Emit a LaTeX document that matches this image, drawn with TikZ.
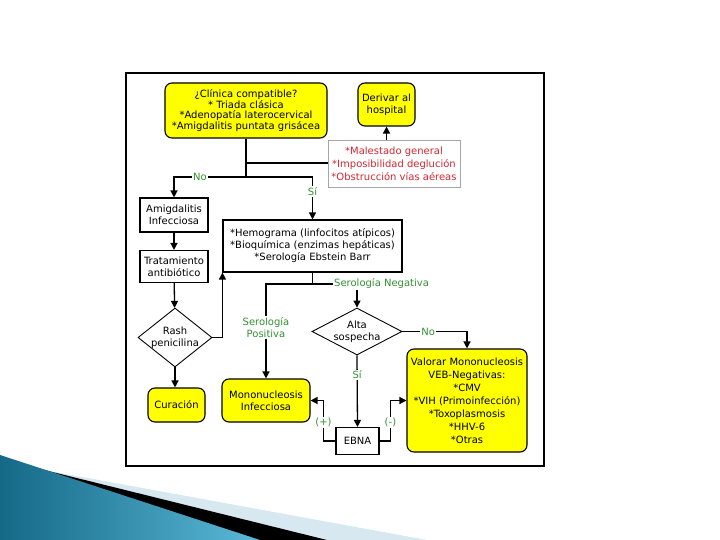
\documentclass[tikz,border=0pt]{standalone}
\usepackage{fontspec}
\newfontfamily\verd{DejaVu Sans}
\usetikzlibrary{arrows.meta,shapes.geometric,positioning,calc}
\definecolor{amarillo}{RGB}{255,255,0}
\definecolor{verde}{RGB}{51,145,51}
\definecolor{rojo}{RGB}{210,40,50}
\definecolor{gris}{RGB}{165,165,165}
\definecolor{tealosc}{RGB}{20,105,135}
\definecolor{tealcla}{RGB}{90,185,215}
\definecolor{celeste}{RGB}{215,232,240}

\begin{document}
\begin{tikzpicture}[x=1pt,y=-1pt,
    caja/.style={draw, line width=1.1pt, fill=white, align=center, inner sep=0pt, font=\verd\fontsize{10}{12}\selectfont},
    amar/.style={caja, fill=amarillo, rounded corners=7pt},
    rombo/.style={draw, diamond, fill=white, line width=0.9pt, align=center, inner sep=-3pt, font=\verd\fontsize{10}{12}\selectfont},
    lbl/.style={fill=white, inner sep=1pt, text=verde, align=center, font=\verd\fontsize{10}{12}\selectfont},
    arr/.style={-{Triangle[length=7pt,width=7pt]}, line width=1.3pt},
    lin/.style={line width=1.3pt}
]
\useasboundingbox (0,0) rectangle (720,540);
% fondo de la diapositiva
\fill[celeste] (0,462) -- (427,540) -- (0,540) -- cycle;
\fill[black] (0,459) -- (327,540) -- (0,540) -- cycle;
\shade[shading=axis, left color=tealosc, right color=tealcla] (0,455) -- (260,540) -- (0,540) -- cycle;
\draw[line width=1.2pt] (126,73) rectangle (544,466);

\node[amar, minimum width=162pt, minimum height=55pt, font=\verd\fontsize{10}{10.5}\selectfont] (clinica) at (246,110.5) {¿Clínica compatible?\\* Triada clásica\\*Adenopatía laterocervical\\*Amigdalitis puntata grisácea};
\node[amar, minimum width=57pt, minimum height=43pt] (derivar) at (386.5,104.5) {Derivar al\\hospital};
\node[caja, draw=gris, line width=0.8pt, text=rojo, minimum width=132pt, minimum height=47pt, font=\verd\fontsize{10}{13}\selectfont] (sintomas) at (394,163.5) {*Malestado general\\*Imposibilidad deglución\\*Obstrucción vías aéreas};
\node[caja, minimum width=68pt, minimum height=34pt] (amigdal) at (174,215) {Amigdalitis\\Infecciosa};
\node[caja, minimum width=68pt, minimum height=32pt] (tratam) at (174,266.5) {Tratamiento\\antibiótico};
\node[rombo, shape aspect=1.25, minimum width=74pt, minimum height=59pt] (rash) at (175,337.5) {Rash\\penicilina};
\node[amar, minimum width=57pt, minimum height=34pt] (curacion) at (176.5,405) {Curación};
\node[caja, minimum width=179pt, minimum height=52pt] (hemog) at (312.5,246) {*Hemograma (linfocitos atípicos)\\*Bioquímica (enzimas hepáticas)\\*Serología Ebstein Barr};
\node[rombo, shape aspect=1.9, minimum width=90pt, minimum height=47pt] (alta) at (357,331.5) {Alta\\sospecha};
\node[amar, minimum width=88pt, minimum height=43pt] (mono) at (266,400.5) {Mononucleosis\\Infecciosa};
\node[caja, minimum width=43pt, minimum height=27pt] (ebna) at (357.5,441) {EBNA};
\node[amar, minimum width=120pt, minimum height=103pt, font=\verd\fontsize{10}{13}\selectfont] (valorar) at (467,400.5) {Valorar Mononucleosis\\VEB-Negativas:\\*CMV\\*VIH (Primoinfección)\\*Toxoplasmosis\\*HHV-6\\*Otras};

\coordinate (ramal) at (246,163);
\coordinate (bifur) at (246,177);
\coordinate (serol) at (312.5,284);
\node[lbl, anchor=west] (neg) at (333,284) {Serología Negativa};

\draw[lin] (clinica.south) -- (bifur);
\draw[lin] (ramal) -- (ramal -| sintomas.west);
\draw[arr] (sintomas.north -| derivar) -- (derivar.south);
\draw[arr] (bifur) -| node[lbl, pos=0.32] {No} (amigdal.north);
\draw[arr] (bifur) -| node[lbl, pos=0.67] {Sí} (hemog.north);
\draw[arr] (amigdal) -- (tratam);
\draw[arr] (tratam) -- (rash);
\draw[arr] (rash.south) -- (rash.south |- curacion.north);
\draw[arr] (rash.east) -| (hemog.south west);
\draw[lin] (hemog.south) -- (serol);
\draw[arr] (serol) -| node[lbl, pos=0.73] {Serología\\Positiva} (mono.north);
\draw[lin] (serol) -- (neg.west);
\draw[arr] (neg.south -| alta.north) -- (alta.north);
\draw[arr] (alta.east) -| node[lbl, pos=0.2] {No} (valorar.north);
\draw[arr] (alta.south) -- node[lbl, pos=0.27] {Sí} (ebna.north);
\draw[arr] (ebna.west) -| node[lbl, pos=0.73] {(+)} ($(mono.east)+(13,0)$) -- (mono.east);
\draw[arr] (ebna.east) -| node[lbl, pos=0.73] {(-)} ($(valorar.west)+(-16,0)$) -- (valorar.west);
\end{tikzpicture}
\end{document}
